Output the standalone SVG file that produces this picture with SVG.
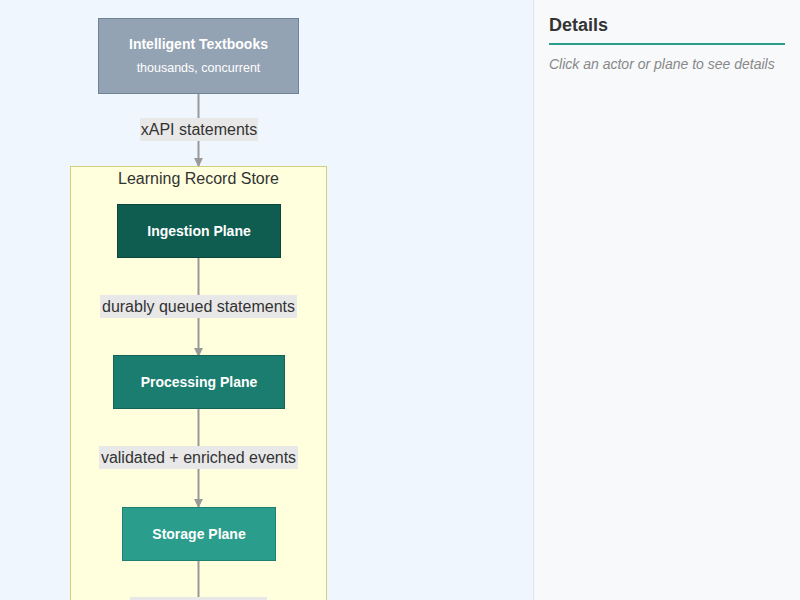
<svg xmlns="http://www.w3.org/2000/svg" width="800" height="600" viewBox="0 0 800 600">
<style>
  .node text { fill: #ffffff; font-family: "Liberation Sans", Arial, sans-serif; text-anchor: middle; }
  .title { font-size: 14px; font-weight: bold; }
  .sub { font-size: 12.5px; }
  .elabel rect { fill: #e8e8e8; }
  .elabel text { fill: #333333; font-family: "Liberation Sans", Arial, sans-serif; font-size: 16px; text-anchor: middle; }
  .edge { stroke: #999999; stroke-width: 2; fill: none; }
</style>
<defs>
  <marker id="arrow" viewBox="0 0 10 10" refX="9" refY="5" markerWidth="9" markerHeight="9" markerUnits="userSpaceOnUse" orient="auto">
    <path d="M0,0 L10,5 L0,10 z" fill="#999999"/>
  </marker>
</defs>
<rect x="0" y="0" width="534" height="600" fill="#eff6fe"/>
<rect x="534" y="0" width="266" height="600" fill="#f8f9fb"/>
<line x1="533.5" y1="0" x2="533.5" y2="600" stroke="#dde3ea" stroke-width="1"/>

<g id="cluster-lrs">
  <rect x="70.5" y="166.5" width="256" height="440" fill="#ffffde" stroke="#cdd27a" stroke-width="1"/>
  <text x="198.5" y="184" font-family="Liberation Sans, Arial, sans-serif" font-size="16" fill="#333333" text-anchor="middle">Learning Record Store</text>
</g>

<g id="connectors">
  <line class="edge" x1="198.5" y1="93" x2="198.5" y2="166" marker-end="url(#arrow)"/>
  <line class="edge" x1="198.5" y1="257" x2="198.5" y2="356" marker-end="url(#arrow)"/>
  <line class="edge" x1="198.5" y1="408" x2="198.5" y2="507" marker-end="url(#arrow)"/>
  <line class="edge" x1="198.5" y1="560" x2="198.5" y2="600"/>
  <g class="elabel">
    <rect x="140" y="118" width="118" height="23"/>
    <text x="199" y="135">xAPI statements</text>
  </g>
  <g class="elabel">
    <rect x="100" y="295" width="197" height="23"/>
    <text x="198.5" y="312">durably queued statements</text>
  </g>
  <g class="elabel">
    <rect x="99" y="446" width="199" height="23"/>
    <text x="198.5" y="463">validated + enriched events</text>
  </g>
  <g class="elabel">
    <rect x="130" y="597" width="137" height="10"/>
  </g>
</g>

<g id="textbooks" class="node">
  <rect x="98.5" y="18.5" width="200" height="75" fill="#94a3b3" stroke="#6f8398" stroke-width="1"/>
  <text class="title" x="198.5" y="49">Intelligent Textbooks</text>
  <text class="sub" x="198.5" y="72">thousands, concurrent</text>
</g>
<g id="ingestion" class="node">
  <rect x="117.5" y="204.5" width="163" height="53" fill="#0f5c50" stroke="#0a463c" stroke-width="1"/>
  <text class="title" x="199" y="236">Ingestion Plane</text>
</g>
<g id="processing" class="node">
  <rect x="113.5" y="355.5" width="171" height="53" fill="#1b7d6f" stroke="#146356" stroke-width="1"/>
  <text class="title" x="199" y="387">Processing Plane</text>
</g>
<g id="storage" class="node">
  <rect x="122.5" y="507.5" width="153" height="53" fill="#2a9d8c" stroke="#1f7f71" stroke-width="1"/>
  <text class="title" x="199" y="539">Storage Plane</text>
</g>

<g id="details-panel">
  <text x="549" y="31" font-family="Liberation Sans, Arial, sans-serif" font-size="18" font-weight="bold" fill="#333333">Details</text>
  <line x1="549" y1="44" x2="785" y2="44" stroke="#2a9d8c" stroke-width="2"/>
  <text x="549" y="69" font-family="Liberation Sans, Arial, sans-serif" font-size="14" font-style="italic" fill="#888888">Click an actor or plane to see details</text>
</g>
</svg>
